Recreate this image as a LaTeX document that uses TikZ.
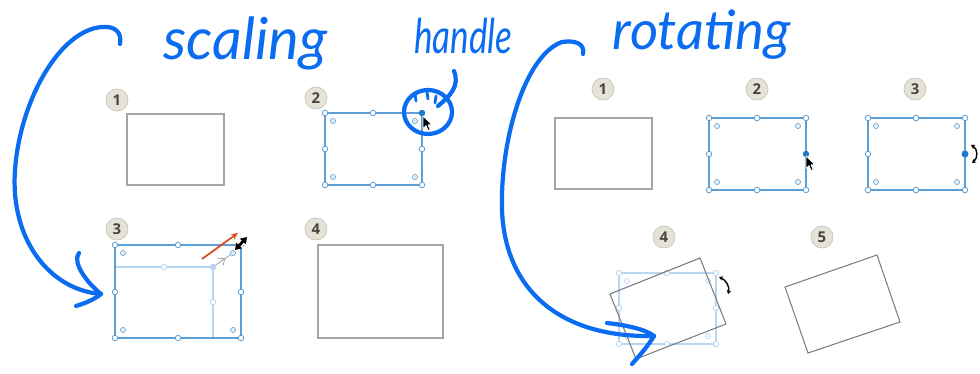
\documentclass[tikz,border=0pt]{standalone}
\usepackage{fontspec}
\usetikzlibrary{arrows.meta,calc}
\definecolor{ink}{RGB}{10,108,240}
\definecolor{sel}{RGB}{92,158,214}
\definecolor{seldark}{RGB}{30,120,205}
\definecolor{lsel}{RGB}{184,214,240}
\definecolor{shapec}{RGB}{165,165,165}
\definecolor{rshape}{RGB}{125,125,125}
\definecolor{bfill}{RGB}{229,227,216}
\definecolor{bdraw}{RGB}{206,204,190}
\definecolor{btext}{RGB}{70,70,65}
\definecolor{orng}{RGB}{214,80,30}
\newfontfamily\badgefont{Open Sans}
\newfontfamily\handfont{Lato}
\tikzset{
  badge/.style={circle,fill=bfill,draw=bdraw,line width=0.5pt,minimum size=0.44cm,inner sep=0pt,
    font=\badgefont\bfseries\fontsize{8.5}{10}\selectfont,text=btext},
  hdl/.style={circle,draw=sel,fill=white,line width=0.45pt,inner sep=0pt,minimum size=0.11cm},
  hdlon/.style={hdl,fill=seldark,draw=seldark},
  lhdl/.style={hdl,draw=lsel},
  lhdlon/.style={lhdl,fill=lsel},
  ctr/.style={circle,draw=sel,line width=0.4pt,inner sep=0pt,minimum size=0.1cm,
    path picture={\fill[sel] (path picture bounding box.center) circle (0.35pt);}},
  lctr/.style={ctr,draw=lsel,path picture={\fill[lsel] (path picture bounding box.center) circle (0.35pt);}},
  shapebox/.style={draw=shapec,line width=0.8pt},
  selbox/.style={draw=sel,line width=0.7pt},
  inkline/.style={draw=ink,line width=2.4pt,line cap=round,line join=round},
  hand/.style={text=ink,inner sep=0pt,font=\handfont\itshape},
  cursorshape/.style={fill=black,draw=white,line width=0.4pt,line join=round},
  rotarrow/.style={draw=black,line width=0.8pt,{Stealth[length=2.2pt,width=2.6pt]}-{Stealth[length=2.2pt,width=2.6pt]}}
}
\begin{document}
\begin{tikzpicture}[x=0.02cm,y=-0.02cm]
\useasboundingbox[fill=white] (0,0) rectangle (980,374);

% ---------------- handwriting ----------------
\node[hand,anchor=base west] (tscal) at (163,60) {\fontsize{33}{36}\selectfont scaling};
\node[hand,anchor=base west] (thand) at (414,54) {\scalebox{0.95}[1.3]{\fontsize{21}{24}\selectfont handle}};
\node[hand,anchor=base west] (trot) at (612,50) {\fontsize{31}{34}\selectfont rotating};

% ---------------- scaling 1 ----------------
\node[badge] (sb1) at (117,100) {1};
\draw[shapebox] (127,114) rectangle (224,185);

% ---------------- scaling 2 ----------------
\node[badge] (sb2) at (316,98) {2};
\draw[selbox] (325,113) rectangle (422,185);
\foreach \n/\x/\y in {a/325/113,b/373/113,c/325/185,d/373/185,e/422/185,f/325/149,g/422/149}
  \node[hdl] (s2\n) at (\x,\y) {};
\node[hdlon] (s2h) at (422,113) {};
\foreach \n/\x/\y in {a/333/121,b/415/121,c/333/177,d/415/177}
  \node[ctr] (s2c\n) at (\x,\y) {};
\begin{scope}[shift={(423,116)}]
  \draw[cursorshape] (0,0) -- (0,12.5) -- (3,9.5) -- (5.2,14.5) -- (7.2,13.6) -- (5,8.8) -- (9,8.8) -- cycle;
\end{scope}
% handle loop
\draw[inkline] (428,112) ellipse [x radius=24, y radius=22];
\coordinate (hl1) at (438,106);
\coordinate (hl2) at (454,71);
\draw[inkline] (hl1) .. controls (450,96) and (460,86) .. (hl2);
\draw[ink,line width=1.6pt,line cap=round] (415,94) -- (416,101) (427,92) -- (428,99) (436,96) -- (435,103);

% ---------------- scaling 3 ----------------
\node[badge] (sb3) at (117,229) {3};
\draw[lsel,line width=0.9pt] (115,267) -- (213,267) -- (213,338);
\draw[selbox] (115,245) rectangle (241,338);
\foreach \n/\x/\y in {a/115/245,b/178/245,c/241/245,d/115/338,e/178/338,f/241/338,g/115/292,h/241/292}
  \node[hdl] (s3\n) at (\x,\y) {};
\foreach \n/\x/\y in {a/123/253,b/233/253,c/123/330,d/233/330}
  \node[ctr] (s3c\n) at (\x,\y) {};
\node[lhdl] (s3i1) at (164,267) {};
\node[lhdl] (s3i2) at (213,302) {};
\node[lhdlon] (s3i) at (213,267) {};
\draw[gray!70,line width=0.5pt,-{Straight Barb[length=3pt,width=5pt]}] (s3i) -- ($(s3i)!0.62!(s3cb)$);
\draw[gray!70,line width=0.5pt] ($(s3i)!0.6!(s3cb)$) -- (s3cb);
\coordinate (oa) at (202,259);
\coordinate (ob) at (238,233);
\draw[orng,line width=1pt,-{Stealth[length=4pt,width=3.5pt]}] (oa) -- (ob);
\coordinate (da) at (235,250);
\coordinate (db) at (247,237);
\draw[white,line width=3pt,{Triangle[length=4.5pt,width=5.5pt]}-{Triangle[length=4.5pt,width=5.5pt]}] (da) -- (db);
\draw[black,line width=1.6pt,{Triangle[length=3.5pt,width=4.5pt]}-{Triangle[length=3.5pt,width=4.5pt]}] (da) -- (db);

% ---------------- scaling 4 ----------------
\node[badge] (sb4) at (316,229) {4};
\draw[shapebox] (318,245) rectangle (443,338);

% ---------------- rotating 1 ----------------
\node[badge] (rb1) at (603,89) {1};
\draw[shapebox] (555,118) rectangle (652,189);

% ---------------- rotating 2 ----------------
\node[badge] (rb2) at (757,89) {2};
\draw[selbox] (709,118) rectangle (806,190);
\foreach \n/\x/\y in {a/709/118,b/757/118,c/806/118,d/709/190,e/757/190,f/806/190,g/709/154}
  \node[hdl] (r2\n) at (\x,\y) {};
\node[hdlon] (r2h) at (806,154) {};
\foreach \n/\x/\y in {a/717/126,b/798/126,c/717/182,d/798/182}
  \node[ctr] (r2c\n) at (\x,\y) {};
\begin{scope}[shift={(806,156)}]
  \draw[cursorshape] (0,0) -- (0,12.5) -- (3,9.5) -- (5.2,14.5) -- (7.2,13.6) -- (5,8.8) -- (9,8.8) -- cycle;
\end{scope}

% ---------------- rotating 3 ----------------
\node[badge] (rb3) at (915,89) {3};
\draw[selbox] (868,118) rectangle (965,190);
\foreach \n/\x/\y in {a/868/118,b/916/118,c/965/118,d/868/190,e/916/190,f/965/190,g/868/154}
  \node[hdl] (r3\n) at (\x,\y) {};
\node[circle,fill=seldark,inner sep=0pt,minimum size=0.14cm] (r3h) at (965,154) {};
\foreach \n/\x/\y in {a/876/126,b/957/126,c/876/182,d/957/182}
  \node[ctr] (r3c\n) at (\x,\y) {};
\coordinate (ra1) at (971,145);
\coordinate (ra2) at (972,163);
\draw[rotarrow] (ra1) .. controls (978,149) and (978,158) .. (ra2);

% ---------------- rotating 4 ----------------
\node[badge] (rb4) at (664,237) {4};
\draw[lsel,line width=0.6pt] (619,273) rectangle (716,344);
\foreach \n/\x/\y in {a/619/273,b/667/273,c/716/273,d/619/344,e/667/344,f/716/344,g/619/308,h/716/308}
  \node[lhdl] (r4\n) at (\x,\y) {};
\foreach \n/\x/\y in {a/627/281,b/708/281,c/627/336,d/708/336}
  \node[lctr] (r4c\n) at (\x,\y) {};
\coordinate (q1) at (610,294);
\coordinate (q2) at (700,258);
\coordinate (q3) at (726,324);
\coordinate (q4) at (636,359);
\draw[rshape,line width=0.6pt] (q1) -- (q2) -- (q3) -- (q4) -- cycle;
\coordinate (rb1a) at (719,277);
\coordinate (rb2a) at (728,294);
\draw[rotarrow] (rb1a) .. controls (726,280) and (730,287) .. (rb2a);

% ---------------- rotating 5 ----------------
\node[badge] (rb5) at (822,237) {5};
\coordinate (p1) at (785,287);
\coordinate (p2) at (877,255);
\coordinate (p3) at (900,322);
\coordinate (p4) at (808,353);
\draw[rshape,line width=0.6pt] (p1) -- (p2) -- (p3) -- (p4) -- cycle;

% ---------------- hand-drawn arrows ----------------
\coordinate (la) at (120,44);
\coordinate (lb) at (101,294);
\draw[inkline] (la) .. controls (122,32) and (115,26) .. (102,27)
  .. controls (60,30) and (20,100) .. (15,170)
  .. controls (10,240) and (50,290) .. (lb);
\draw[inkline] (79,253) .. controls (72,262) and (86,282) .. (lb)
  .. controls (95,299) and (86,303) .. (76,306);
\coordinate (ra) at (583,54);
\coordinate (rb) at (654,336);
\draw[inkline] (ra) .. controls (585,44) and (576,40) .. (562,42)
  .. controls (525,55) and (500,140) .. (502,210)
  .. controls (505,290) and (560,338) .. (rb);
\draw[inkline] (607,323) .. controls (625,325) and (645,329) .. (rb)
  .. controls (648,346) and (640,355) .. (632,364);
\end{tikzpicture}
\end{document}
